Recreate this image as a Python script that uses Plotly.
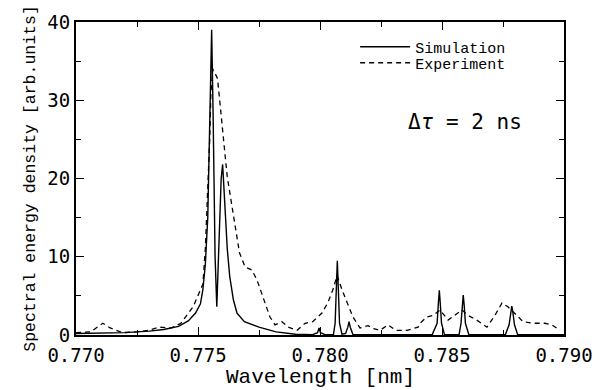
import plotly.graph_objects as go

# Simulation (solid line)
sim_wl = [0.7700, 0.7710, 0.7720, 0.7730, 0.7736, 0.7742, 0.7746, 0.7749, 0.7751, 0.7752,
          0.7753, 0.77540, 0.77548, 0.77556, 0.77562, 0.77570, 0.77577, 0.77585, 0.77595,
          0.77601, 0.77608, 0.77620, 0.77630, 0.77645, 0.77660, 0.77690, 0.7775, 0.7782,
          0.7790, 0.7797, 0.77990, 0.77996, 0.78002, 0.78020, 0.78055, 0.78062, 0.78067,
          0.78071, 0.78075, 0.78080, 0.78090, 0.78105, 0.78114, 0.78119, 0.78124, 0.78135,
          0.7846, 0.78480, 0.78485, 0.78489, 0.78493, 0.78498, 0.7851, 0.7857, 0.78578,
          0.78583, 0.78587, 0.78591, 0.78596, 0.7861, 0.7876, 0.78775, 0.78782, 0.78786,
          0.78790, 0.78797, 0.7881, 0.7900]
sim_val = [0.2, 0.25, 0.3, 0.5, 0.7, 1.1, 1.8, 2.8, 4.0, 5.8,
           9.0, 15.0, 28.0, 39.0, 28.0, 10.0, 3.6, 10.0, 20.0,
           21.8, 18.0, 11.0, 7.5, 4.5, 2.8, 1.7, 1.0, 0.4,
           0.1, 0.05, 0.3, 0.9, 0.3, 0.05, 0.05, 1.5, 6.0,
           9.5, 6.0, 1.5, 0.1, 0.2, 1.0, 1.7, 1.0, 0.05,
           0.05, 1.5, 4.0, 5.7, 4.0, 1.5, 0.05, 0.05, 1.5,
           3.8, 5.1, 3.8, 1.5, 0.05, 0.05, 1.3, 3.0, 3.7,
           3.0, 1.3, 0.05, 0.05]

# Experiment (dashed line)
exp_wl = [0.7700, 0.7706, 0.7711, 0.7714, 0.7719, 0.7725, 0.7730, 0.7734, 0.7739, 0.7743,
          0.7748, 0.7751, 0.7752, 0.7753, 0.7754, 0.77548, 0.77553, 0.77561, 0.7758,
          0.77594, 0.7761, 0.7762, 0.7765, 0.7767, 0.77693, 0.77721, 0.77742, 0.77766,
          0.77795, 0.77816, 0.77844, 0.7787, 0.77906, 0.77939, 0.7797, 0.78008, 0.78033,
          0.78053, 0.7807, 0.7809, 0.78111, 0.78135, 0.78164, 0.78197, 0.7822, 0.78246,
          0.78279, 0.7831, 0.78357, 0.78402, 0.7841, 0.78438, 0.78463, 0.78492, 0.78525,
          0.78553, 0.78582, 0.78607, 0.78643, 0.78684, 0.78717, 0.78746, 0.7877, 0.78807,
          0.78832, 0.78873, 0.78922, 0.7895, 0.78984]
exp_val = [0.3, 0.4, 1.5, 0.9, 0.3, 0.4, 0.6, 1.0, 0.9, 1.5,
           3.6, 5.8, 6.5, 11.0, 18.0, 25.0, 31.0, 34.0, 32.8,
           28.0, 23.3, 20.2, 14.7, 10.5, 8.7, 8.3, 7.0, 4.9,
           2.3, 1.3, 1.7, 1.0, 0.6, 1.5, 1.7, 2.8, 4.2,
           5.8, 7.6, 5.8, 4.2, 2.3, 0.9, 1.2, 0.8, 0.6,
           1.3, 0.6, 0.6, 1.0, 1.5, 2.3, 2.5, 3.2, 1.9,
           2.5, 3.2, 2.5, 1.9, 1.0, 2.5, 4.1, 3.6, 2.5,
           1.7, 1.5, 1.5, 1.3, 0.6]

x_tickvals = [0.770, 0.775, 0.780, 0.785, 0.790]
x_ticktext = ["0.770", "0.775", "0.780", "0.785", "0.790"]
y_tickvals = [0, 10, 20, 30, 40]
y_ticktext = ["0", "10", "20", "30", "40"]

fig = go.Figure()
fig.add_trace(go.Scatter(x=sim_wl, y=sim_val, mode="lines", name="Simulation",
                         line=dict(color="black", width=1.4), legend="legend"))
fig.add_trace(go.Scatter(x=exp_wl, y=exp_val, mode="lines", name="Experiment",
                         line=dict(color="black", width=1.3, dash="5px,4px"), legend="legend2"))

tickfont = dict(family="DejaVu Sans Mono", size=19, color="black")
legfont = dict(family="Liberation Mono", size=15, color="black")
fig.update_layout(
    width=609, height=390,
    margin=dict(l=76, r=45, t=22, b=55),
    paper_bgcolor="white", plot_bgcolor="white",
    showlegend=True,
    legend=dict(x=0.572, y=0.920, xanchor="left", yanchor="middle",
                bgcolor="rgba(0,0,0,0)", font=legfont, itemwidth=50),
    legend2=dict(x=0.572, y=0.869, xanchor="left", yanchor="middle",
                 bgcolor="rgba(0,0,0,0)", font=legfont, itemwidth=50),
    xaxis=dict(range=[0.770, 0.790], tickvals=x_tickvals, ticktext=x_ticktext,
               ticks="inside", ticklen=8, tickwidth=1, tickcolor="black",
               minor=dict(dtick=0.0025, tick0=0.770, ticks="inside", ticklen=5, tickcolor="black"),
               showline=True, linecolor="black", linewidth=2, mirror="ticks",
               showgrid=False, zeroline=False, tickfont=tickfont, ticklabelstandoff=2,
               automargin=False),
    yaxis=dict(range=[0, 40], tickvals=y_tickvals, ticktext=y_ticktext,
               ticks="inside", ticklen=8, tickwidth=1, tickcolor="black",
               minor=dict(dtick=5, tick0=0, ticks="inside", ticklen=5, tickcolor="black"),
               showline=True, linecolor="black", linewidth=2, mirror="ticks",
               showgrid=False, zeroline=False, tickfont=tickfont, automargin=False,
               title=dict(text="Spectral energy density [arb.units]\u00a0", standoff=8,
                          font=dict(family="Liberation Mono", size=16.5, color="black"))),
    annotations=[
        dict(text="Δ<i>τ</i> = 2 ns", xref="paper", yref="paper",
             x=0.677, y=0.681, xanchor="left", yanchor="middle", showarrow=False,
             font=dict(family="DejaVu Sans Mono", size=21, color="black")),
        dict(text="Wavelength [nm]", xref="paper", yref="paper",
             x=0.5, y=0, xanchor="center", yanchor="middle", yshift=-42, showarrow=False,
             font=dict(family="Liberation Mono", size=21, color="black")),
    ],
)

fig.write_html("out.html", config={"displayModeBar": False},
               post_script="document.body.style.margin='0';")
